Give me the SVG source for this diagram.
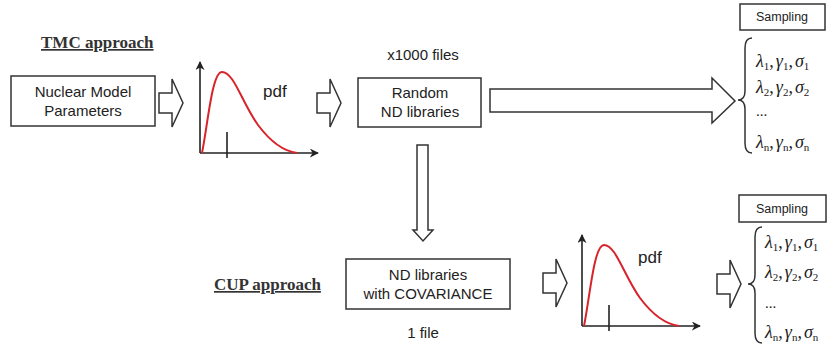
<svg xmlns="http://www.w3.org/2000/svg" width="833" height="351" viewBox="0 0 833 351">
  <defs>
    <style>
      .box { fill: #fff; stroke: #333; stroke-width: 1.5; }
      .hollow { fill: #fff; stroke: #333; stroke-width: 1.5; stroke-linejoin: miter; }
      .axis { fill: none; stroke: #222; stroke-width: 1.6; }
      .curve { fill: none; stroke: #d8232a; stroke-width: 2; }
      .brace { fill: none; stroke: #333; stroke-width: 1.5; }
      .lbl { font-family: "Liberation Sans", Arial, sans-serif; font-size: 15px; fill: #222; text-anchor: middle; }
      .pdf { font-family: "Liberation Sans", Arial, sans-serif; font-size: 17px; fill: #222; }
      .samp { font-family: "Liberation Sans", Arial, sans-serif; font-size: 12.5px; fill: #222; text-anchor: middle; }
      .title { font-family: "Liberation Serif", "Times New Roman", serif; font-size: 17px; font-weight: bold; fill: #333; text-decoration: underline; }
      .math { font-family: "Liberation Serif", "Times New Roman", serif; font-size: 18px; font-style: italic; fill: #222; }
      .sub { font-size: 11px; font-style: normal; }
      .cm { font-style: normal; }
      .dots { font-family: "Liberation Serif", "Times New Roman", serif; font-size: 15px; fill: #222; }
    </style>
    <marker id="axisHead" viewBox="0 0 10 10" refX="9" refY="5" markerWidth="9" markerHeight="9" markerUnits="userSpaceOnUse" orient="auto">
      <path d="M0,0 L10,5 L0,10 L3,5 Z" fill="#222"/>
    </marker>
    <!-- small hollow block arrow, 24 wide, 48 tall, tip at (24,24) -->
    <path id="blockArrow" class="hollow" d="M0,14 L13,14 L13,0 L24,24 L13,48 L13,34 L0,34 Z"/>
    <!-- pdf plot with axes, curve and tick, origin at axis corner -->
    <g id="pdfPlot">
      <path class="axis" d="M0,0 L0,-91" marker-end="url(#axisHead)"/>
      <path class="axis" d="M0,0 L118,0" marker-end="url(#axisHead)"/>
      <path class="curve" d="M2,0 C8,-30 12,-81 22,-81 C34,-81 42,-50 58,-28 C70,-12 82,-2 97,0"/>
      <path class="axis" d="M27,-21 L27,5"/>
    </g>
  </defs>

  <!-- TMC approach -->
  <text class="title" x="41" y="48">TMC approach</text>

  <g id="nuclear-model">
    <rect class="box" x="11" y="76" width="144" height="50"/>
    <text class="lbl" x="83" y="97">Nuclear Model</text>
    <text class="lbl" x="83" y="116">Parameters</text>
  </g>

  <g id="pdf-tmc">
    <use href="#pdfPlot" x="200" y="153"/>
    <text class="pdf" x="263" y="97">pdf</text>
  </g>

  <g id="random-libs">
    <text class="lbl" x="423" y="60">x1000 files</text>
    <rect class="box" x="358" y="78" width="123" height="49"/>
    <text class="lbl" x="420" y="98">Random</text>
    <text class="lbl" x="420" y="117">ND libraries</text>
  </g>

  <g id="sampling-tmc">
    <rect class="box" x="740" y="4" width="85" height="26"/>
    <text class="samp" x="782" y="21">Sampling</text>
    <path class="brace" d="M752,38 Q745,38 745,48 L745,91 Q745,100 738,100 Q745,100 745,109 L745,143 Q745,153 752,153"/>
    <text class="math" x="756" y="67">λ<tspan class="sub" dy="3">1</tspan><tspan class="cm" dy="-3">,</tspan><tspan dx="2">γ</tspan><tspan class="sub" dy="3">1</tspan><tspan class="cm" dy="-3">,</tspan><tspan dx="2">σ</tspan><tspan class="sub" dy="3">1</tspan></text>
    <text class="math" x="756" y="93">λ<tspan class="sub" dy="3">2</tspan><tspan class="cm" dy="-3">,</tspan><tspan dx="2">γ</tspan><tspan class="sub" dy="3">2</tspan><tspan class="cm" dy="-3">,</tspan><tspan dx="2">σ</tspan><tspan class="sub" dy="3">2</tspan></text>
    <text class="dots" x="756" y="116">...</text>
    <text class="math" x="756" y="148">λ<tspan class="sub" dy="3" font-style="italic">n</tspan><tspan class="cm" dy="-3">,</tspan><tspan dx="2">γ</tspan><tspan class="sub" dy="3" font-style="italic">n</tspan><tspan class="cm" dy="-3">,</tspan><tspan dx="2">σ</tspan><tspan class="sub" dy="3" font-style="italic">n</tspan></text>
  </g>

  <!-- CUP approach -->
  <text class="title" x="214" y="290">CUP approach</text>

  <g id="covariance-libs">
    <rect class="box" x="346" y="259" width="164" height="50"/>
    <text class="lbl" x="428" y="280">ND libraries</text>
    <text class="lbl" x="428" y="299">with COVARIANCE</text>
    <text class="lbl" x="423" y="338">1 file</text>
  </g>

  <g id="pdf-cup">
    <use href="#pdfPlot" x="582" y="326"/>
    <text class="pdf" x="638" y="263">pdf</text>
  </g>

  <g id="sampling-cup">
    <rect class="box" x="739" y="195" width="87" height="27"/>
    <text class="samp" x="782" y="213">Sampling</text>
    <path class="brace" d="M762,227 Q755,227 755,237 L755,275 Q755,284 748,284 Q755,284 755,293 L755,333 Q755,343 762,343"/>
    <text class="math" x="765" y="248">λ<tspan class="sub" dy="3">1</tspan><tspan class="cm" dy="-3">,</tspan><tspan dx="2">γ</tspan><tspan class="sub" dy="3">1</tspan><tspan class="cm" dy="-3">,</tspan><tspan dx="2">σ</tspan><tspan class="sub" dy="3">1</tspan></text>
    <text class="math" x="765" y="278">λ<tspan class="sub" dy="3">2</tspan><tspan class="cm" dy="-3">,</tspan><tspan dx="2">γ</tspan><tspan class="sub" dy="3">2</tspan><tspan class="cm" dy="-3">,</tspan><tspan dx="2">σ</tspan><tspan class="sub" dy="3">2</tspan></text>
    <text class="dots" x="765" y="308">...</text>
    <text class="math" x="765" y="338">λ<tspan class="sub" dy="3" font-style="italic">n</tspan><tspan class="cm" dy="-3">,</tspan><tspan dx="2">γ</tspan><tspan class="sub" dy="3" font-style="italic">n</tspan><tspan class="cm" dy="-3">,</tspan><tspan dx="2">σ</tspan><tspan class="sub" dy="3" font-style="italic">n</tspan></text>
  </g>

  <!-- block arrows linking the stages -->
  <g id="connectors">
    <use href="#blockArrow" x="159" y="79"/>
    <use href="#blockArrow" x="317" y="79"/>
    <path class="hollow" d="M490,89 L712,89 L712,78 L735,101 L712,123 L712,112 L490,112 Z"/>
    <path class="hollow" d="M417,145 L428,145 L428,230 L433,230 L423,241 L413,230 L417,230 Z"/>
    <use href="#blockArrow" x="543" y="259"/>
    <use href="#blockArrow" x="717" y="260"/>
  </g>
</svg>
